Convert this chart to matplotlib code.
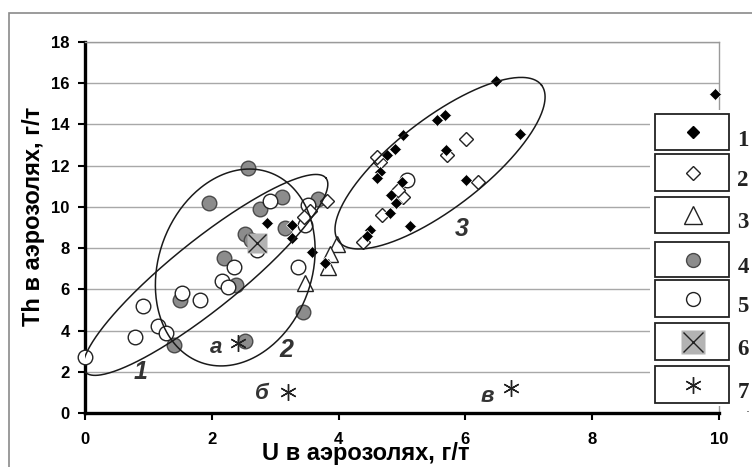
import numpy as np
import matplotlib
matplotlib.use("Agg")
import matplotlib.pyplot as plt
import matplotlib.patches as patches

# --- data ---
# 1: black diamonds
x1 = [9.93, 6.48, 5.68, 5.55, 6.86, 5.02, 4.89, 4.76, 5.70, 6.01, 4.65, 4.60,
      5.00, 4.82, 4.90, 4.81, 5.13, 4.50, 4.45, 2.87, 3.26, 3.27, 3.58, 3.78]
y1 = [15.5, 16.1, 14.45, 14.2, 13.55, 13.5, 12.8, 12.5, 12.75, 11.3, 11.7, 11.4,
      11.2, 10.6, 10.2, 9.7, 9.05, 8.9, 8.6, 9.2, 9.1, 8.5, 7.8, 7.3]
# 2: open diamonds
x2 = [6.01, 6.20, 5.71, 4.66, 4.60, 5.02, 4.94, 4.68, 4.39, 3.82, 3.55, 3.45]
y2 = [13.3, 11.2, 12.5, 12.2, 12.4, 10.5, 10.8, 9.6, 8.3, 10.3, 9.8, 9.5]
# 3: open triangles
x3 = [3.97, 3.86, 3.83, 3.47]
y3 = [8.2, 7.7, 7.1, 6.3]
# 4: grey circles
x4 = [2.57, 1.96, 2.76, 3.10, 3.67, 2.52, 2.19, 2.38, 1.50, 1.40, 2.52, 3.44, 3.15, 2.62]
y4 = [11.9, 10.2, 9.9, 10.5, 10.4, 8.7, 7.5, 6.2, 5.5, 3.3, 3.5, 4.9, 9.0, 8.4]
# 5: open circles
x5 = [0.0, 0.79, 0.92, 1.15, 1.28, 1.53, 1.82, 2.16, 2.25, 2.35, 3.36, 2.92, 3.47, 3.52, 2.72, 5.08]
y5 = [2.7, 3.7, 5.2, 4.2, 3.9, 5.8, 5.5, 6.4, 6.1, 7.1, 7.1, 10.3, 9.1, 10.1, 7.9, 11.3]
# 6: grey square with cross
x6 = [2.71]
y6 = [8.25]
# 7: asterisks
x7 = [2.42, 3.20, 6.72]
y7 = [3.4, 1.0, 1.2]

point_labels = ["а", "б", "в"]
point_label_x = [2.07, 2.79, 6.34]
point_label_y = [3.2, 0.97, 0.78]

group_labels = ["1", "2", "3"]
group_label_x = [0.87, 3.18, 5.95]
group_label_y = [2.0, 3.06, 8.93]

# ellipses: centre, two conjugate half-axis vectors (data units)
ell_centres = [(1.90, 6.70), (2.37, 7.06), (5.60, 12.12)]
ell_u = [(1.90, 4.70), (1.26, 0.85), (1.60, 3.79)]
ell_v = [(0.34, -1.29), (0.00, -4.70), (0.43, -1.72)]

xticks = [0, 2, 4, 6, 8, 10]
yticks = [0, 2, 4, 6, 8, 10, 12, 14, 16, 18]
legend_names = ["1", "2", "3", "4", "5", "6", "7"]

SANS = "Liberation Sans"
W, H = 752, 467

fig = plt.figure(figsize=(W / 100, H / 100), dpi=100)
fig.patch.set_facecolor("white")

# outer frame of the chart
fig.patches.append(patches.Rectangle((9 / W, -0.02), 1.1, (H - 13) / H + 0.02,
                                     transform=fig.transFigure, fill=False,
                                     edgecolor="#8a8a8a", linewidth=1.2))

ax = fig.add_axes([85 / W, (H - 413) / H, (719 - 85) / W, (413 - 42) / H])
ax.set_xlim(0, 10)
ax.set_ylim(0, 18)
ax.set_xticks(xticks)
ax.set_yticks(yticks)
ax.yaxis.grid(True, color="#a8a8a8", linewidth=1.0)
ax.set_axisbelow(True)
for s in ["left", "bottom"]:
    ax.spines[s].set_linewidth(2.4)
    ax.spines[s].set_color("black")
for s in ["top", "right"]:
    ax.spines[s].set_linewidth(1.0)
    ax.spines[s].set_color("#9a9a9a")
ax.tick_params(axis="both", direction="out", length=5, width=1.5)
ax.tick_params(axis="x", pad=9)
ax.tick_params(axis="y", pad=6)
for lab in ax.get_xticklabels() + ax.get_yticklabels():
    lab.set_fontfamily(SANS)
    lab.set_fontweight("bold")
    lab.set_fontsize(12)

ax.set_xlabel("U в аэрозолях, г/т", fontsize=17, fontweight="bold", family=SANS)
ax.xaxis.set_label_coords(0.443, -0.108)
ax.set_ylabel("Th в аэрозолях, г/т", fontsize=17, fontweight="bold", family=SANS)
ax.yaxis.set_label_coords(-0.082, 0.53)
ax.xaxis.label.set_va("center")
ax.yaxis.label.set_va("center")

# markers
ax.plot(x4, y4, "o", ms=10.5, mfc="#8c8c8c", mec="#4a4a4a", mew=1.0, zorder=3, clip_on=False)
ax.plot(x5, y5, "o", ms=10.5, mfc="white", mec="#222222", mew=1.0, zorder=3.2, clip_on=False)
ax.plot(x6, y6, "s", ms=15, mfc="#b3b3b3", mec="none", zorder=3.4)
ax.plot(x6, y6, "x", ms=13, mec="#222222", mew=1.0, zorder=3.5)
ax.plot(x3, y3, "^", ms=11, mfc="white", mec="#222222", mew=1.0, zorder=3.6)
ax.plot(x2, y2, "D", ms=7, mfc="white", mec="#222222", mew=1.0, zorder=3.7)
ax.plot(x1, y1, "D", ms=6.5, mfc="black", mec="white", mew=0.5, zorder=3.8, clip_on=False)
ax.plot(x7, y7, marker=(6, 2, 0), ms=12, mec="#222222", mew=1.0, ls="none", zorder=3.9)

# ellipses
t = np.linspace(0, 2 * np.pi, 300)
for c, u, v in zip(ell_centres, ell_u, ell_v):
    ex = c[0] + u[0] * np.cos(t) + v[0] * np.sin(t)
    ey = c[1] + u[1] * np.cos(t) + v[1] * np.sin(t)
    ax.plot(ex, ey, color="#1a1a1a", lw=1.1, zorder=4)

for s, x, y in zip(point_labels, point_label_x, point_label_y):
    ax.text(x, y, s, ha="center", va="center", fontsize=16, fontstyle="italic",
            fontweight="bold", color="#333333", family=SANS, zorder=5)
for s, x, y in zip(group_labels, group_label_x, group_label_y):
    ax.text(x, y, s, ha="center", va="center", fontsize=18, fontstyle="italic",
            fontweight="bold", color="#333333", family=SANS, zorder=5)

# legend drawn by hand: one box per entry, number outside the box
lax = fig.add_axes([0, 0, 1, 1], zorder=10)
lax.set_xlim(0, W)
lax.set_ylim(H, 0)
lax.axis("off")
lax.add_patch(patches.Rectangle((650, 110), 86, 296, facecolor="white", edgecolor="none"))
box_top = [114, 154, 197, 242, 280, 323, 366]
box_bot = [150, 191, 233, 277, 317, 360, 403]
for i, name in enumerate(legend_names):
    y0, y1b = box_top[i], box_bot[i]
    lax.add_patch(patches.Rectangle((655, y0), 74, y1b - y0, facecolor="white",
                                    edgecolor="#222222", linewidth=1.3))
    cy = (y0 + y1b) / 2
    lax.text(743, cy + 8, name, ha="center", va="center", fontsize=16.5,
             fontweight="bold", family="Liberation Serif", color="#222222")
leg_cy = [(a + b) / 2 for a, b in zip(box_top, box_bot)]
lx = 693
lax.plot(lx, leg_cy[0], "D", ms=6.5, mfc="black", mec="black")
lax.plot(lx, leg_cy[1], "D", ms=7, mfc="white", mec="#222222", mew=1.0)
lax.plot(lx, leg_cy[2], "^", ms=13, mfc="white", mec="#222222", mew=1.0)
lax.plot(lx, leg_cy[3], "o", ms=10, mfc="#8c8c8c", mec="#4a4a4a", mew=1.0)
lax.plot(lx, leg_cy[4], "o", ms=10, mfc="white", mec="#222222", mew=1.0)
lax.plot(lx, leg_cy[5], "s", ms=17, mfc="#b3b3b3", mec="none")
lax.plot(lx, leg_cy[5], "x", ms=15, mec="#222222", mew=1.0)
lax.plot(lx, leg_cy[6], marker=(6, 2, 0), ms=12, mec="#222222", mew=1.0, ls="none")
lax.text(748, 408, ".", ha="center", va="center", fontsize=9, color="#333333")

fig.savefig("out.png", dpi=100)
